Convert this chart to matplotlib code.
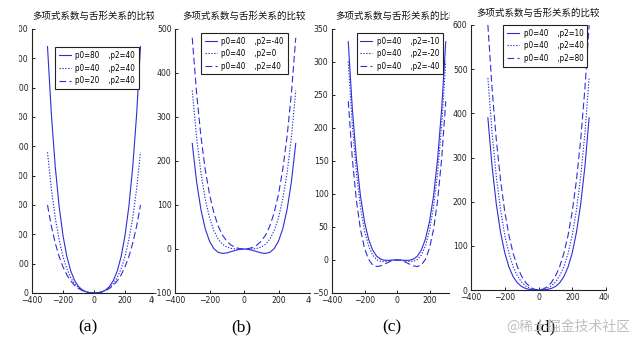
import numpy as np
import matplotlib
matplotlib.use('Agg')
import matplotlib.pyplot as plt
from matplotlib.patches import Rectangle

W, H = 636, 354
BLUE = '#2e2ed8'
NUM_FONT = ['Liberation Sans Narrow', 'DejaVu Sans']
CJK_FONT = ['Noto Sans CJK SC', 'DejaVu Sans']

title = '多项式系数与舌形关系的比较'
panel_tags = ['(a)', '(b)', '(c)', '(d)']

# right half of every curve (x >= 0), the left half is its mirror image
x_half = [0, 25, 50, 75, 100, 125, 150, 175, 200, 225, 250, 275, 300]

# (a) p2 = 40, p0 changes
a_p0_80 = [0, 0.9, 3.9, 10.3, 22.2, 42.5, 75, 124.2, 195.5, 295.3, 430.5, 609.2, 840]
a_p0_40 = [0, 0.85, 3.6, 8.9, 17.8, 31.7, 52.5, 82.5, 124.4, 181.4, 256.9, 355, 480]
a_p0_20 = [0, 0.84, 3.5, 8.2, 15.6, 26.2, 41.3, 61.6, 88.9, 124.4, 170.1, 227.9, 300]
a_labels = ['p0=80    ,p2=40', 'p0=40    ,p2=40', 'p0=20    ,p2=40']

# (b) p0 = 40, p2 = -40 / 0 / 40
b_p2_m40 = [0, -0.8, -3.1, -6.1, -8.9, -10.0, -7.5, 0.9, 17.8, 46.4, 90.3, 153.4, 240]
b_p2_0 = [0, 0.02, 0.3, 1.4, 4.4, 10.9, 22.5, 41.7, 71.1, 113.9, 173.6, 254.2, 360]
b_p2_40 = [0, 0.85, 3.6, 8.9, 17.8, 31.7, 52.5, 82.5, 124.4, 181.4, 256.9, 355, 480]
b_labels = ['p0=40    ,p2=-40', 'p0=40    ,p2=0', 'p0=40    ,p2=40']

# (c) p0 = 40, p2 = -10 / -20 / -40
c_p2_m10 = [0, -0.2, -0.6, -0.5, 1.1, 5.6, 15.0, 31.5, 57.8, 97.0, 152.8, 229.0, 330]
c_p2_m20 = [0, -0.4, -1.4, -2.3, -2.2, 0.4, 7.5, 21.3, 44.4, 80.2, 131.9, 203.8, 300]
c_p2_m40 = [0, -0.8, -3.1, -6.1, -8.9, -10.0, -7.5, 0.9, 17.8, 46.4, 90.3, 153.4, 240]
c_labels = ['p0=40    ,p2=-10', 'p0=40    ,p2=-20', 'p0=40    ,p2=-40']

# (d) p0 = 40, p2 = 10 / 40 / 80
d_p2_10 = [0, 0.2, 1.1, 3.3, 7.8, 16.1, 30, 51.9, 84.4, 130.8, 194.4, 279.4, 390]
d_p2_40 = [0, 0.85, 3.6, 8.9, 17.8, 31.7, 52.5, 82.5, 124.4, 181.4, 256.9, 355, 480]
d_p2_80 = [0, 1.7, 6.9, 16.4, 31.1, 52.5, 82.5, 123.4, 177.8, 248.9, 340.3, 455.9, 600]
d_labels = ['p0=40    ,p2=10', 'p0=40    ,p2=40', 'p0=40    ,p2=80']

x_ticks = [-400, -200, 0, 200, 400]
a_yticks = [0, 100, 200, 300, 400, 500, 600, 700, 800, 900]
b_yticks = [-100, 0, 100, 200, 300, 400, 500]
c_yticks = [-50, 0, 50, 100, 150, 200, 250, 300, 350]
d_yticks = [0, 100, 200, 300, 400, 500, 600]


def mirror(half):
    half = np.asarray(half, float)
    return np.concatenate([half[::-1], half[1:]])


xs = np.concatenate([-np.asarray(x_half[::-1], float), np.asarray(x_half[1:], float)])

styles = ['-', (0, (1.2, 1.4)), (0, (6, 3))]

# pixel boxes of each screenshot piece
panels = [
    dict(img=0, box=(32, 29, 156, 293), curves=[a_p0_80, a_p0_40, a_p0_20],
         labels=a_labels, yticks=a_yticks, leg=(0.185, 0.93), toff=13),
    dict(img=154, box=(175, 29, 313, 293), curves=[b_p2_m40, b_p2_0, b_p2_40],
         labels=b_labels, yticks=b_yticks, leg=(0.188, 0.985), toff=13),
    dict(img=311, box=(332, 28.5, 462, 293), curves=[c_p2_m10, c_p2_m20, c_p2_m40],
         labels=c_labels, yticks=c_yticks, leg=(0.19, 0.983), toff=12.5),
    dict(img=450, box=(471, 25, 606, 290), curves=[d_p2_10, d_p2_40, d_p2_80],
         labels=d_labels, yticks=d_yticks, leg=(0.237, 1.0), toff=12),
]

fig = plt.figure(figsize=(W / 100, H / 100), dpi=100)


def px_axes(left, top, right, bottom, z):
    return fig.add_axes([left / W, 1 - bottom / H, (right - left) / W, (bottom - top) / H], zorder=z)


def white_sheet(left, right, z):
    fig.add_artist(Rectangle((left / W, 0), (right - left) / W, 1, transform=fig.transFigure,
                             facecolor='white', edgecolor='none', zorder=z))


for i, p in enumerate(panels):
    # white sheet of this screenshot, hides what the previous one spilled over
    white_sheet(p['img'], W, 0.1 * (2 * i) + 0.05)

    l, t, r, b = p['box']
    ax = px_axes(l, t, r, b, 0.1 * (2 * i + 1))
    ax.patch.set_alpha(0)
    for k, ys in enumerate(p['curves']):
        ax.plot(xs, mirror(ys), color=BLUE, lw=0.8, linestyle=styles[k], label=p['labels'][k])
    ax.set_xlim(-400, 400)
    ax.set_ylim(p['yticks'][0], p['yticks'][-1])
    ax.set_xticks(x_ticks)
    ax.set_yticks(p['yticks'])
    ax.spines['top'].set_visible(False)
    ax.spines['right'].set_visible(False)
    for s in ['left', 'bottom']:
        ax.spines[s].set_linewidth(0.8)
        ax.spines[s].set_color('#222222')
    ax.tick_params(direction='in', length=2.5, width=0.7, labelsize=6.2, pad=2.5, colors='#222222')
    for lab in ax.get_xticklabels() + ax.get_yticklabels():
        lab.set_family(NUM_FONT)
        lab.set_stretch('condensed')
    ax.text(0.5, 1 + p['toff'] / (b - t), title, transform=ax.transAxes, ha='center', va='center',
            fontsize=6.8, family=CJK_FONT, color='#111111', clip_on=False)
    leg = ax.legend(loc='upper left', bbox_to_anchor=p['leg'], fontsize=5.8, frameon=True, fancybox=False,
                    edgecolor='#222222', framealpha=1, borderpad=0.45, labelspacing=0.45,
                    handlelength=1.5, handletextpad=0.6, borderaxespad=0)
    leg.get_frame().set_linewidth(0.8)
    for txt in leg.get_texts():
        txt.set_family(NUM_FONT)
        txt.set_stretch('condensed')

# left edge of the first screenshot was cut off, right edge of the last one too
white_sheet(0, 19, 1.0)
white_sheet(609, W, 1.0)

tag_x = [88, 241, 392, 545]
for tx, tag in zip(tag_x, panel_tags):
    fig.text(tx / W, 1 - 327 / H, tag, ha='center', va='center', fontsize=12.5,
             family='Liberation Serif', color='black', zorder=5)

fig.text(630 / W, 1 - 327 / H, '@稀土掘金技术社区', ha='right', va='center', fontsize=10,
         family=CJK_FONT, color='#b8b8b8', alpha=0.9, zorder=6)

fig.savefig('out.png', dpi=100)
